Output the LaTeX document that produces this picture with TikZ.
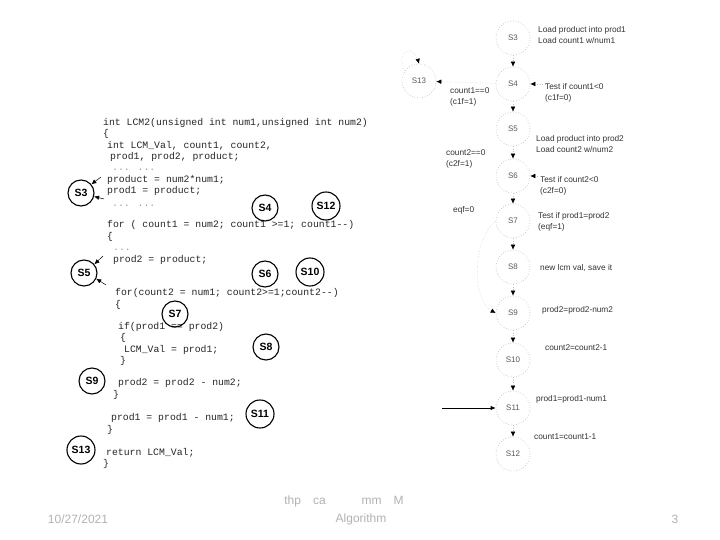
\documentclass[tikz,border=0pt]{standalone}
\usepackage{fontspec}
\setmainfont{Liberation Sans}
\newfontfamily\codefont{Liberation Mono}
\usetikzlibrary{arrows.meta}
\begin{document}
\begin{tikzpicture}[x=1pt,y=-1pt,
 code/.style={anchor=base west, inner sep=0pt, font=\codefont\fontsize{9.8}{11}\selectfont, text=black!85},
 dots/.style={code, text=black!40},
 st/.style={circle, draw, line width=1.1pt, inner sep=0pt, minimum size=26pt, font=\bfseries\fontsize{10.5}{12}\selectfont},
 stb/.style={st, minimum size=28pt},
 rn/.style={circle, draw=black!30, dotted, line width=0.6pt, minimum size=34pt, inner sep=0pt, font=\fontsize{8}{10}\selectfont, text=black!65},
 lab/.style={anchor=west, inner sep=0pt, font=\fontsize{8.3}{11}\selectfont, text=black!80, align=left},
 tip/.style={-{Latex[length=5pt,width=4.5pt,color=black]}},
 dl/.style={dotted, draw=black!25, line width=0.5pt, tip},
 sa/.style={draw=black, line width=0.5pt, tip},
 foot/.style={inner sep=0pt, font=\fontsize{12}{14}\selectfont, text=black!30}]
\useasboundingbox (0,0) rectangle (720,540);
\fill[white] (0,0) rectangle (720,540);

% ---- code ----
\node[code] (l1)  at (103,126) {int LCM2(unsigned int num1,unsigned int num2)};
\node[code] (l2)  at (103,137) {\{};
\node[code] (l3)  at (107,149) {int LCM\_Val, count1, count2,};
\node[code] (l4)  at (110,160) {prod1, prod2, product;};
\node[dots] (l5)  at (112,171) {... ...};
\node[code] (l6)  at (107,183) {product = num2*num1;};
\node[code] (l7)  at (107,194) {prod1 = product;};
\node[dots] (l8)  at (112,207) {... ...};
\node[code] (l9)  at (107,227) {for ( count1 = num2; count1 >=1; count1-{}-)};
\node[code] (l10) at (107,240) {\{};
\node[dots] (l11) at (113,251) {...};
\node[code] (l12) at (113,262) {prod2 = product;};
\node[code] (l13) at (115,295) {for(count2 = num1; count2>=1;count2-{}-)};
\node[code] (l14) at (115,307) {\{};
\node[code] (l15) at (118,329) {if(prod1 == prod2)};
\node[code] (l16) at (120,340) {\{};
\node[code] (l17) at (124,352) {LCM\_Val = prod1;};
\node[code] (l18) at (120,363) {\}};
\node[code] (l19) at (118,385) {prod2 = prod2 - num2;};
\node[code] (l20) at (113,397) {\}};
\node[code] (l21) at (111,420) {prod1 = prod1 - num1;};
\node[code] (l22) at (107,432) {\}};
\node[code] (l23) at (106,455) {return LCM\_Val;};
\node[code] (l24) at (103,466) {\}};

% ---- left state markers ----
\node[st]  (a3)  at (81,193)  {S3};
\node[st]  (a4)  at (265,208) {S4};
\node[stb] (a12) at (326,206) {S12};
\node[st]  (a5)  at (84,273)  {S5};
\node[st]  (a6)  at (265,274) {S6};
\node[stb] (a10) at (310,272) {S10};
\node[st]  (a7)  at (175,314) {S7};
\node[st]  (a8)  at (266,347) {S8};
\node[st]  (a9)  at (92,381)  {S9};
\node[stb] (a11) at (260,414) {S11};
\node[stb] (a13) at (81,450)  {S13};

\coordinate (p3a) at (101,177);
\coordinate (p3b) at (104,199);
\coordinate (p5a) at (103,256);
\coordinate (p5b) at (106,285);
\draw[sa] (p3a) -- (a3.40);
\draw[sa] (p3b) -- (a3.-15);
\draw[sa] (p5a) -- (a5.40);
\draw[sa] (p5b) -- (a5.-25);

% ---- right graph ----
\node[rn] (S3)  at (513,38)  {S3};
\node[rn] (S4)  at (513,84)  {S4};
\node[rn] (S13) at (419,81)  {S13};
\node[rn] (S5)  at (513,129) {S5};
\node[rn] (S6)  at (513,176) {S6};
\node[rn] (S7)  at (513,221) {S7};
\node[rn] (S8)  at (513,267) {S8};
\node[rn] (S9)  at (513,313) {S9};
\node[rn] (S10) at (513,360) {S10};
\node[rn] (S11) at (513,408) {S11};
\node[rn] (S12) at (513,454) {S12};

\draw[dl] (S3) -- (S4);
\draw[dl] (S4) -- (S5);
\draw[dl] (S5) -- (S6);
\draw[dl] (S6) -- (S7);
\draw[dl] (S7) -- (S8);
\draw[dl] (S8) -- (S9);
\draw[dl] (S9) -- (S10);
\draw[dl] (S10) -- (S11);
\draw[dl] (S11) -- (S12);
\draw[dl] (S4) -- (S13);
\draw[dl] (S13.145) .. controls (394,48) and (414,46) .. (S13.north);
\draw[dl] (S7.west) .. controls (472,240) and (472,300) .. (S9.west);

\node[lab] (t3)  at (538,35)  {Load product into prod1\\Load count1 w/num1};
\node[lab] (t4)  at (545,93)  {Test if count1<0\\(c1f=0)};
\node[lab] (t13) at (450,97)  {count1==0\\(c1f=1)};
\node[lab] (t5)  at (536,144) {Load product into prod2\\Load count2 w/num2};
\node[lab] (t6n) at (446,159) {count2==0\\(c2f=1)};
\node[lab] (t6)  at (540,186) {Test if count2<0\\(c2f=0)};
\node[lab] (t7n) at (453,210) {eqf=0};
\node[lab] (t7)  at (538,222) {Test if prod1=prod2\\(eqf=1)};
\node[lab] (t8)  at (540,268) {new lcm val, save it};
\node[lab] (t9)  at (542,310) {prod2=prod2-num2};
\node[lab] (t10) at (545,348) {count2=count2-1};
\node[lab] (t11) at (536,399) {prod1=prod1-num1};
\node[lab] (t12) at (534,437) {count1=count1-1};

\draw[dl] (t4.west |- S4.east) -- (S4.east);
\draw[dl] (t6.west |- S6.east) -- (S6.east);

\coordinate (c11) at (442,408);
\draw[sa, line width=0.7pt] (c11) -- (S11.west);

% ---- footer ----
\node[foot] (f1) at (78,519) {10/27/2021};
\node[foot] (f2) at (344,501) {thp\quad ca\qquad\quad mm\quad M};
\node[foot] (f3) at (361,519) {Algorithm};
\node[foot] (f4) at (675,519) {3};
\end{tikzpicture}
\end{document}
